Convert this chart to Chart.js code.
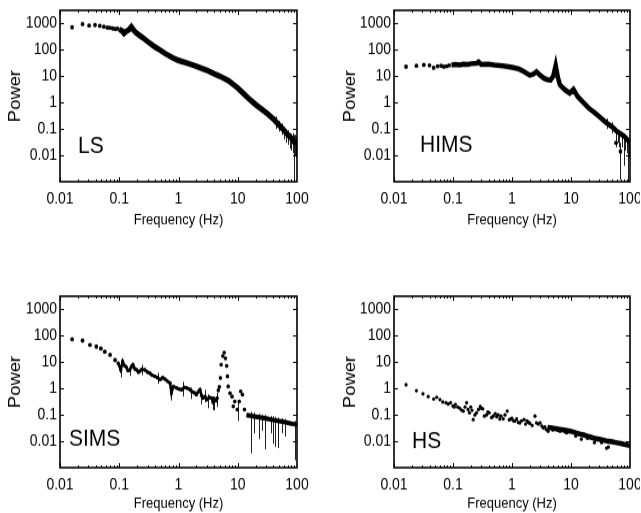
<!DOCTYPE html>
<html>
<head>
<meta charset="utf-8">
<title>Power spectra</title>
<script src="https://cdn.jsdelivr.net/npm/chart.js@4.4.0/dist/chart.umd.min.js"></script>
<style>
  html, body { margin: 0; padding: 0; background: #fff; }
  body { width: 641px; height: 513px; position: relative; overflow: hidden; }
  /* the original figure is stretched vertically a little */
  .panel { position: absolute; width: 320px; height: 223px; transform: scaleY(1.15); transform-origin: 0 0; }
  .panel canvas { display: block; }
</style>
</head>
<body>
<div class="panel" style="left:0px;top:0px"><canvas id="ls" width="320" height="223"></canvas></div>
<div class="panel" style="left:320px;top:0px"><canvas id="hims" width="320" height="223"></canvas></div>
<div class="panel" style="left:0px;top:256px"><canvas id="sims" width="320" height="223"></canvas></div>
<div class="panel" style="left:320px;top:256px"><canvas id="hs" width="320" height="223"></canvas></div>
<script>
// tick labels shared by every panel
var xTicks = [0.01, 0.1, 1, 10, 100];
var yTicks = [0.01, 0.1, 1, 10, 100, 1000];

// LS
var lsDotF = [0.016, 0.024, 0.031, 0.039, 0.047, 0.055, 0.063, 0.07, 0.078, 0.086, 0.094];
var lsDotP = [720, 950, 840, 880, 820, 760, 700, 690, 650, 620, 640];
var lsBandF = [0.1, 0.11, 0.12, 0.13, 0.145, 0.16, 0.18, 0.2, 0.25, 0.3, 0.4, 0.5, 0.6, 0.8, 1, 1.5, 2, 3, 4, 5, 7, 10, 15, 20, 30, 40, 50, 60, 70, 80, 90, 100];
var lsBandP = [600, 540, 430, 500, 580, 760, 520, 420, 290, 210, 130, 95, 72, 50, 40, 30, 24, 17, 12.5, 10, 6.8, 3.6, 1.5, 0.85, 0.42, 0.24, 0.14, 0.09, 0.06, 0.045, 0.032, 0.03];
var lsErrF = [45, 50, 55, 60, 65, 70, 75, 80, 85, 88, 92, 95, 98];
var lsErrLo = [0.1, 0.08, 0.06, 0.04, 0.03, 0.025, 0.018, 0.015, 0.012, 0.001, 0.01, 0.008, 0.015];
var lsErrHi = [0.3, 0.2, 0.16, 0.12, 0.1, 0.09, 0.07, 0.065, 0.07, 0.06, 0.06, 0.05, 0.045];

// HIMS
var himsDotF = [0.016, 0.024, 0.032, 0.04, 0.047, 0.055, 0.063, 0.07, 0.078, 0.086, 58, 69];
var himsDotP = [23, 25, 27, 26, 21, 24, 25, 23, 24, 26, 0.03, 0.014];
var himsBandF = [0.094, 0.11, 0.13, 0.15, 0.18, 0.2, 0.25, 0.27, 0.3, 0.4, 0.5, 0.7, 1, 1.3, 1.6, 2, 2.3, 2.6, 3, 3.5, 4, 4.5, 5, 5.5, 6, 6.5, 7, 8, 9.5, 11, 12, 13, 15, 20, 25, 30, 40, 50, 60, 70, 80, 90, 100];
var himsBandP = [27, 28, 27, 29, 28, 30, 31, 35, 28, 29, 27, 25, 22, 19, 15, 11, 12, 15, 11, 8.3, 7.5, 7.2, 10, 26, 9, 4.7, 4, 3, 2.3, 3.2, 2.3, 1.7, 1.2, 0.62, 0.42, 0.3, 0.17, 0.12, 0.081, 0.065, 0.053, 0.04, 0.03];
var himsErrF = [40, 50, 58, 62, 66, 69, 74, 78, 83, 88, 93, 97];
var himsErrLo = [0.1, 0.07, 0.02, 0.03, 0.02, 0.0012, 0.02, 0.004, 0.015, 0.012, 0.001, 0.008];
var himsErrHi = [0.25, 0.18, 0.09, 0.08, 0.07, 0.03, 0.06, 0.05, 0.05, 0.045, 0.04, 0.035];

// SIMS
var simsDotF = [0.016, 0.024, 0.032, 0.041, 0.049, 0.057, 0.07, 0.085];
var simsDotP = [74, 66, 45, 39, 33, 25, 19, 12];
var simsNoiseF = [0.096, 0.106, 0.114, 0.122, 0.13, 0.14, 0.15, 0.16, 0.17, 0.185, 0.197, 0.21, 0.22, 0.24, 0.27, 0.3, 0.33, 0.36, 0.4, 0.44, 0.49, 0.54, 0.59, 0.65, 0.72, 0.76, 0.82, 0.93, 1.03, 1.13, 1.25, 1.38, 1.52, 1.67, 1.83, 2.0, 2.15, 2.3, 2.45, 2.6, 2.8, 3.0, 3.3, 3.6, 3.85, 4.1, 4.3, 4.5];
var simsNoiseP = [9.2, 5.1, 10.5, 7.5, 6.7, 4.8, 5.1, 6.5, 8, 5.5, 5.1, 4.2, 4.5, 5.3, 5.1, 4.2, 3.8, 3.2, 2.9, 2.6, 2.2, 2.6, 2.3, 1.9, 1.6, 0.68, 1.2, 1.05, 0.95, 0.9, 1.1, 1.05, 0.95, 0.78, 0.7, 0.59, 0.75, 0.9, 0.55, 0.44, 0.5, 0.38, 0.46, 0.44, 0.3, 0.38, 0.35, 0.44];
var simsPeakF = [4.7, 4.9, 5.1, 5.25, 5.6, 5.9, 6.2, 6.5, 6.7, 6.9, 7.4, 8.0, 8.4, 8.9, 9.8, 10.6, 11.2, 12, 13];
var simsPeakP = [0.85, 1.15, 2.5, 8.0, 17, 23, 14, 7.2, 2.9, 1.2, 0.67, 0.5, 0.21, 0.32, 0.16, 0.32, 0.78, 0.59, 0.16];
var simsBandF = [14, 16, 18, 20, 25, 30, 35, 40, 50, 60, 70, 80, 90, 100];
var simsBandP = [0.1, 0.095, 0.09, 0.086, 0.079, 0.073, 0.068, 0.064, 0.058, 0.054, 0.05, 0.047, 0.045, 0.042];
var simsErrF = [0.106, 0.15, 0.24, 0.45, 0.76, 1.2, 1.6, 2.4, 2.8, 3.2, 3.85, 4.0, 4.4, 10, 16.5, 19, 23, 26, 29, 36, 40, 43, 48, 55, 62, 93];
var simsErrLo = [2.6, 3.0, 3.2, 1.5, 0.35, 0.5, 0.4, 0.25, 0.3, 0.18, 0.15, 0.15, 0.2, 0.06, 0.0035, 0.02, 0.012, 0.025, 0.005, 0.02, 0.008, 0.006, 0.0055, 0.02, 0.015, 0.0019];
var simsErrHi = [9, 8, 8, 4, 1.2, 1.8, 1.1, 0.8, 0.9, 0.6, 0.5, 0.5, 0.7, 0.3, 0.13, 0.12, 0.11, 0.1, 0.1, 0.09, 0.09, 0.085, 0.08, 0.075, 0.07, 0.06];

// HS
var hsDotF = [0.016, 0.024, 0.031, 0.038, 0.047, 0.053, 0.06, 0.067, 0.076, 0.083, 0.091, 0.1, 0.105, 0.11, 0.12, 0.13, 0.14, 0.15, 0.16, 0.17, 0.18, 0.19, 0.2, 0.21, 0.22, 0.235, 0.25, 0.27, 0.29, 0.3, 0.32, 0.34, 0.37, 0.39, 0.41, 0.45, 0.48, 0.52, 0.55, 0.58, 0.62, 0.65, 0.71, 0.76, 0.83, 0.9, 0.95, 1.0, 1.06, 1.12, 1.2, 1.28, 1.36, 1.45, 1.6, 1.7, 1.8, 1.9, 2.0, 2.2, 2.45, 2.6, 2.8, 3.0, 3.2, 3.4, 3.6, 3.8, 4.1, 4.3, 4.5, 4.9, 5.2, 5.5, 6.0, 6.5, 7.0, 7.5, 8.0, 8.4, 9.0, 9.3, 12, 15, 19, 25, 33, 40, 43];
var hsDotP = [1.4, 0.83, 0.63, 0.5, 0.4, 0.47, 0.38, 0.31, 0.29, 0.26, 0.29, 0.22, 0.2, 0.25, 0.2, 0.18, 0.15, 0.14, 0.2, 0.29, 0.16, 0.12, 0.2, 0.15, 0.067, 0.1, 0.12, 0.16, 0.21, 0.18, 0.17, 0.09, 0.1, 0.13, 0.12, 0.08, 0.09, 0.11, 0.085, 0.1, 0.07, 0.09, 0.071, 0.1, 0.14, 0.065, 0.07, 0.075, 0.06, 0.058, 0.07, 0.052, 0.05, 0.06, 0.067, 0.045, 0.06, 0.052, 0.048, 0.04, 0.09, 0.05, 0.045, 0.05, 0.038, 0.032, 0.035, 0.028, 0.024, 0.033, 0.035, 0.027, 0.032, 0.03, 0.026, 0.024, 0.028, 0.026, 0.023, 0.021, 0.025, 0.023, 0.016, 0.012, 0.013, 0.009, 0.009, 0.0055, 0.006];
var hsBandF = [4, 5, 6, 8, 10, 12, 14, 17, 20, 25, 30, 36, 42, 50, 60, 70, 80, 90, 100];
var hsBandP = [0.034, 0.031, 0.029, 0.026, 0.024, 0.021, 0.019, 0.017, 0.015, 0.013, 0.012, 0.011, 0.01, 0.0095, 0.0088, 0.0082, 0.0077, 0.0072, 0.0068];

var fontFamily = '"Liberation Sans", Arial, Helvetica, sans-serif';

var framePlugin = {
    id: 'frame',
    beforeDatasetsDraw: function(chart, args, opts) {
        var a = chart.chartArea, ctx = chart.ctx;
        var xs = chart.scales.x, ys = chart.scales.y;
        ctx.save();
        ctx.beginPath();
        ctx.rect(a.left, a.top, a.width, a.height);
        ctx.clip();
        ctx.strokeStyle = '#222';
        ctx.lineWidth = 1;
        for (var i = 0; i < opts.errF.length; i++) {
            var px = Math.round(xs.getPixelForValue(opts.errF[i])) + 0.5;
            ctx.beginPath();
            ctx.moveTo(px, ys.getPixelForValue(opts.errHi[i]));
            ctx.lineTo(px, ys.getPixelForValue(opts.errLo[i]));
            ctx.stroke();
        }
        ctx.restore();
    },
    afterDatasetsDraw: function(chart, args, opts) {
        var a = chart.chartArea, ctx = chart.ctx;
        var xs = chart.scales.x, ys = chart.scales.y;
        ctx.save();
        ctx.strokeStyle = '#000';
        ctx.lineWidth = 1;
        // minor and major ticks on x, pointing inward
        for (var d = -2; d <= 1; d++) {
            for (var m = 1; m <= 9; m++) {
                var px = Math.round(xs.getPixelForValue(m * Math.pow(10, d))) + 0.5;
                var len = m === 1 ? 4 : 2;
                ctx.beginPath();
                ctx.moveTo(px, a.bottom); ctx.lineTo(px, a.bottom - len);
                ctx.moveTo(px, a.top); ctx.lineTo(px, a.top + len);
                ctx.stroke();
            }
        }
        yTicks.forEach(function(v) {
            var py = Math.round(ys.getPixelForValue(v)) + 0.5;
            ctx.beginPath();
            ctx.moveTo(a.left, py); ctx.lineTo(a.left + 4, py);
            ctx.moveTo(a.right, py); ctx.lineTo(a.right - 4, py);
            ctx.stroke();
        });
        ctx.lineWidth = 1.6;
        ctx.strokeRect(a.left, a.top, a.width, a.height);
        ctx.fillStyle = '#000';
        ctx.font = '21px ' + fontFamily;
        ctx.textBaseline = 'alphabetic';
        ctx.fillText(opts.name, a.left + opts.lx, a.top + opts.ly);
        ctx.restore();
    }
};

function series(f, p, line, r) {
    return {
        data: f.map(function(v, i) { return { x: v, y: p[i] }; }),
        showLine: line > 0,
        borderColor: '#000',
        backgroundColor: '#000',
        borderWidth: line,
        pointRadius: r,
        pointBorderWidth: 0,
        pointBackgroundColor: '#000',
        tension: 0
    };
}

function makePanel(id, name, datasets, err, box) {
    return new Chart(document.getElementById(id), {
        type: 'scatter',
        data: { datasets: datasets },
        options: {
            responsive: false,
            animation: false,
            events: [],
            layout: { padding: { top: box.top, right: box.right, left: 0, bottom: 0 } },
            plugins: {
                legend: { display: false },
                tooltip: { enabled: false },
                frame: { name: name, lx: box.lx, ly: box.ly, errF: err[0], errLo: err[1], errHi: err[2] }
            },
            scales: {
                x: {
                    type: 'logarithmic',
                    min: 0.01,
                    max: 100,
                    grid: { display: false, drawTicks: false },
                    border: { display: false },
                    afterBuildTicks: function(s) { s.ticks = xTicks.map(function(v) { return { value: v }; }); },
                    afterFit: function(s) { s.height = box.xh; s.paddingLeft = 0; s.paddingRight = 0; },
                    ticks: {
                        autoSkip: false, maxRotation: 0, color: '#000', padding: 7,
                        font: { family: fontFamily, size: 14 },
                        callback: function(v) { return String(v); }
                    },
                    title: {
                        display: true, text: 'Frequency (Hz)', color: '#000',
                        font: { family: fontFamily, size: 13 },
                        padding: { top: 0, bottom: box.xtp }
                    }
                },
                y: {
                    type: 'logarithmic',
                    min: 0.001,
                    max: 3162,
                    grid: { display: false, drawTicks: false },
                    border: { display: false },
                    afterBuildTicks: function(s) { s.ticks = yTicks.map(function(v) { return { value: v }; }); },
                    afterFit: function(s) { s.width = box.yw; s.paddingTop = 0; s.paddingBottom = 0; },
                    ticks: {
                        autoSkip: false, color: '#000', padding: 3,
                        font: { family: fontFamily, size: 14 },
                        callback: function(v) { return String(v); }
                    },
                    title: {
                        display: true, text: 'Power', color: '#000',
                        font: { family: fontFamily, size: 16 },
                        padding: { top: box.ytp, bottom: 0 }
                    }
                }
            }
        },
        plugins: [framePlugin]
    });
}

makePanel('ls', 'LS', [
    series(lsBandF, lsBandP, 5, 0),
    series(lsDotF, lsDotP, 0, 1.9)
], [lsErrF, lsErrLo, lsErrHi], { top: 9, right: 23, xh: 65, yw: 60, xtp: 24, ytp: 6, lx: 18, ly: 124 });

makePanel('hims', 'HIMS', [
    series(himsBandF, himsBandP, 4.5, 0),
    series(himsDotF, himsDotP, 0, 1.9)
], [himsErrF, himsErrLo, himsErrHi], { top: 9, right: 10, xh: 65, yw: 74, xtp: 24, ytp: 21, lx: 26, ly: 123 });

makePanel('sims', 'SIMS', [
    series(simsBandF, simsBandP, 4, 0),
    series(simsNoiseF, simsNoiseP, 2.5, 1.7),
    series(simsPeakF, simsPeakP, 0, 1.8),
    series(simsDotF, simsDotP, 0, 1.9)
], [simsErrF, simsErrLo, simsErrHi], { top: 35, right: 23, xh: 39, yw: 60, xtp: 0, ytp: 6, lx: 9, ly: 130 });

makePanel('hs', 'HS', [
    series(hsBandF, hsBandP, 4.5, 0),
    series(hsDotF, hsDotP, 0, 1.6)
], [[], [], []], { top: 35, right: 10, xh: 39, yw: 74, xtp: 0, ytp: 21, lx: 18, ly: 132 });
</script>
</body>
</html>
